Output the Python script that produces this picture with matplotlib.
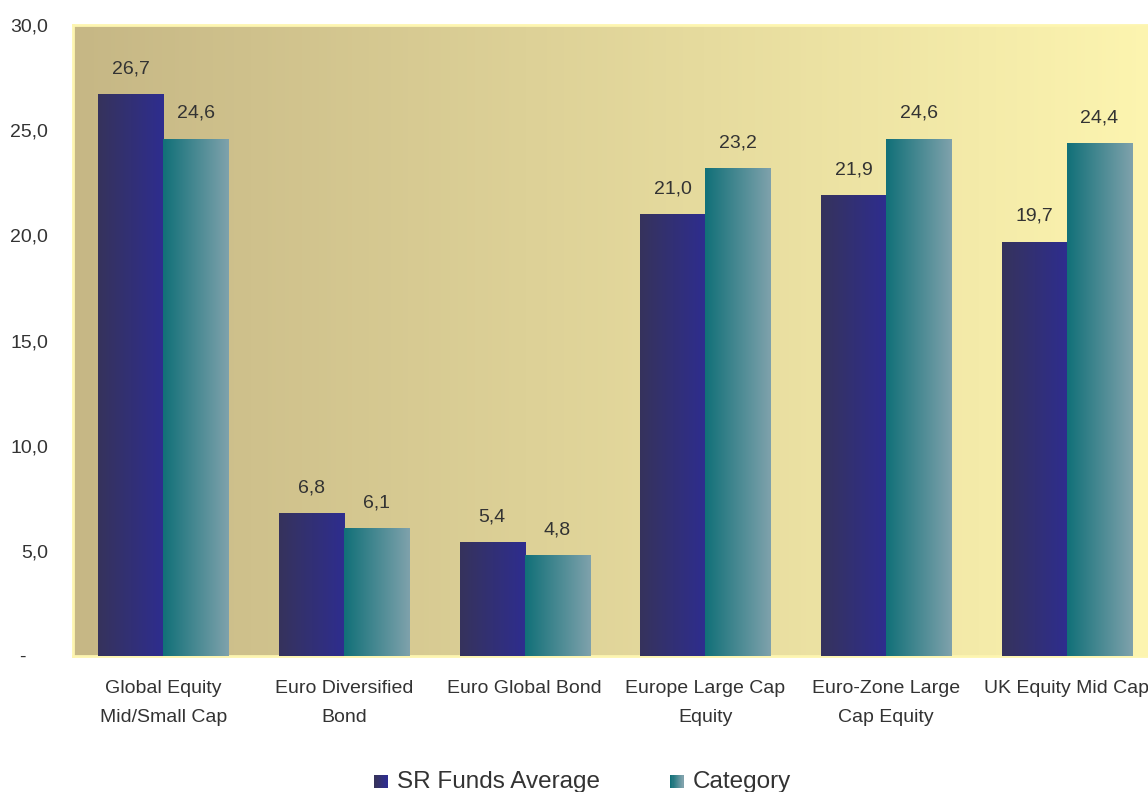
import numpy as np
import matplotlib
matplotlib.use("Agg")
import matplotlib.pyplot as plt
from matplotlib.patches import Rectangle
from matplotlib.colors import LinearSegmentedColormap, to_rgb
from matplotlib.legend_handler import HandlerBase

categories = ["Global Equity\nMid/Small Cap", "Euro Diversified\nBond", "Euro Global Bond",
              "Europe Large Cap\nEquity", "Euro-Zone Large\nCap Equity", "UK Equity Mid Cap"]
sr_funds = [26.7, 6.8, 5.4, 21.0, 21.9, 19.7]
category_avg = [24.6, 6.1, 4.8, 23.2, 24.6, 24.4]
series_names = ["SR Funds Average", "Category"]
yticks = [0, 5, 10, 15, 20, 25, 30]
ytick_labels = ["-    ", "5,0", "10,0", "15,0", "20,0", "25,0", "30,0"]

plt.rcParams['font.family'] = ['Liberation Sans', 'DejaVu Sans']
text_color = "#333333"

navy = ("#36335c", "#2e2d8f")
teal = ("#117078", "#7fa2ac")
bg = ("#c6b785", "#fdf5b0")

fig = plt.figure(figsize=(11.48, 7.92), dpi=100)
ax = fig.add_axes([73/1148, 136/792, 1084/1148, 631/792])

x = np.arange(len(categories))
w = 0.36
b1 = ax.bar(x - w/2, sr_funds, width=w, color=navy[1], zorder=2)
b2 = ax.bar(x + w/2, category_avg, width=w, color=teal[1], zorder=2)

def hgrad(c0, c1):
    return LinearSegmentedColormap.from_list("g", [c0, c1])

grad = np.linspace(0, 1, 256).reshape(1, -1)
ax.imshow(grad, cmap=hgrad(*bg), extent=[-0.5, len(categories) - 0.5, 0, 30],
          aspect='auto', zorder=0, origin='lower')

for bars, cols in ((b1, navy), (b2, teal)):
    cm = hgrad(*cols)
    for b in bars:
        bx, by, bw, bh = b.get_x(), b.get_y(), b.get_width(), b.get_height()
        im = ax.imshow(grad, cmap=cm, extent=[bx, bx + bw, by, by + bh],
                       aspect='auto', zorder=3, origin='lower')
        im.set_clip_path(b)

ax.set_xlim(-0.5, len(categories) - 0.5)
ax.set_ylim(0, 30)

for bars, vals in ((b1, sr_funds), (b2, category_avg)):
    for b, v in zip(bars, vals):
        ax.annotate(f"{v:.1f}".replace(".", ","), (b.get_x() + b.get_width()/2, v),
                    xytext=(0, 12), textcoords="offset points", ha="center", va="bottom",
                    fontsize=14, color=text_color, zorder=5)

ax.set_yticks(yticks)
ax.set_yticklabels(ytick_labels, fontsize=14, color=text_color)
ax.set_xticks(x)
ax.set_xticklabels(categories, fontsize=14, color=text_color, linespacing=1.95, va="top")
ax.tick_params(axis='both', length=0)
ax.tick_params(axis='y', pad=18)
ax.tick_params(axis='x', pad=17)
for s in ax.spines.values():
    s.set_color("#fdf5b0")
    s.set_linewidth(2)

class GradHandler(HandlerBase):
    def __init__(self, cols):
        super().__init__()
        self.cols = cols
    def create_artists(self, legend, orig_handle, xdescent, ydescent, width, height, fontsize, trans):
        n = 12
        c0, c1 = np.array(to_rgb(self.cols[0])), np.array(to_rgb(self.cols[1]))
        arts = []
        s = height * 0.7
        x0 = width - s
        y0 = -ydescent + (height - s) / 2 - 1
        for i in range(n):
            c = c0 + (c1 - c0) * i / (n - 1)
            r = Rectangle((x0 - xdescent + i * s / n, y0), s / n + 0.3, s,
                          facecolor=c, edgecolor='none', transform=trans)
            arts.append(r)
        return arts

h1 = Rectangle((0, 0), 1, 1)
h2 = Rectangle((0, 1), 1, 1)
fig.legend([h1, h2], series_names, loc="lower center", bbox_to_anchor=(0.506, -0.029),
           ncol=2, frameon=False, fontsize=17.5, handlelength=0.7, handleheight=0.8,
           handletextpad=0.4, columnspacing=2.72,
           handler_map={h1: GradHandler(navy), h2: GradHandler(teal)},
           labelcolor=text_color)

fig.savefig("out.png", dpi=100)
